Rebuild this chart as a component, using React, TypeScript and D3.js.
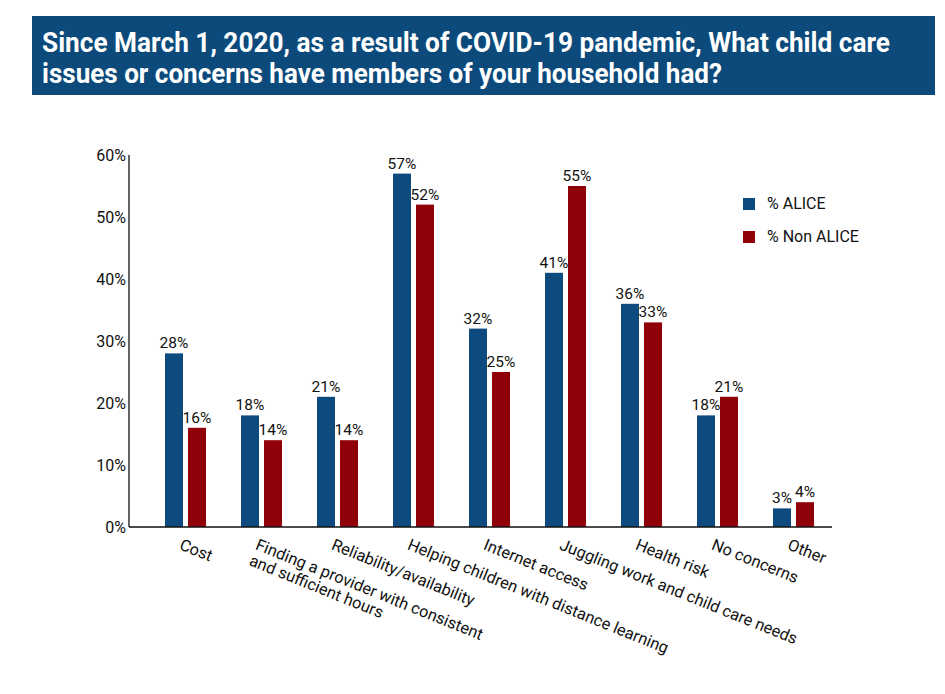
import React from "react";
import * as d3 from "d3";

const categories: string[][] = [
  ["Cost"],
  ["Finding a provider with consistent", "and sufficient hours"],
  ["Reliability/availability"],
  ["Helping children with distance learning"],
  ["Internet access"],
  ["Juggling work and child care needs"],
  ["Health risk"],
  ["No concerns"],
  ["Other"],
];
const alice = [28, 18, 21, 57, 32, 41, 36, 18, 3];
const nonAlice = [16, 14, 14, 52, 25, 55, 33, 21, 4];
const yTicks = [0, 10, 20, 30, 40, 50, 60];
const seriesNames = ["% ALICE", "% Non ALICE"];
const colors = ["#0d4a7d", "#8f0008"];
const titleLines = [
  "Since March 1, 2020, as a result of COVID-19 pandemic, What child care",
  "issues or concerns have members of your household had?",
];

export default function App() {
  const W = 945, H = 694;
  const x0 = 129, x1 = 832, yTop = 155, yBot = 527;
  const x = d3.scaleBand<number>().domain(d3.range(categories.length)).range([147.5, 831.5]);
  const y = d3.scaleLinear().domain([0, 60]).range([yBot, yTop]);
  const bw = 18, gap = 5;
  const font = "Roboto, 'Noto Sans', sans-serif";
  const series = [alice, nonAlice];
  return (
    <svg width={W} height={H} style={{ display: "block", position: "absolute", left: 0, top: 0 }}>
      <rect x={0} y={0} width={W} height={H} fill="#fff" />
      <rect x={32} y={16} width={903} height={79} fill="#0b4a7b" />
      {titleLines.map((t, i) => (
        <text key={i} x={42} y={52 + i * 31} fill="#fff" fontFamily={font} fontWeight={700} fontSize={27.5}
          textLength={i === 0 ? 848 : 680} lengthAdjust="spacingAndGlyphs">{t}</text>
      ))}
      {yTicks.map((t) => (
        <text key={t} x={126} y={y(t) + 6} textAnchor="end" fontFamily={font} fontSize={16} fill="#111">{t}%</text>
      ))}
      {series.map((vals, s) =>
        vals.map((v, i) => {
          const c = x(i)! + x.bandwidth() / 2;
          const bx = s === 0 ? c - gap / 2 - bw : c + gap / 2;
          return (
            <g key={`${s}-${i}`}>
              <rect x={bx} y={y(v)} width={bw} height={yBot - y(v)} fill={colors[s]} />
              <text x={bx + bw / 2} y={y(v) - 5} textAnchor="middle" fontFamily={font} fontSize={15.5} fill="#111">{v}%</text>
            </g>
          );
        })
      )}
      <line x1={x0} x2={x0} y1={yTop} y2={yBot} stroke="#111" strokeWidth={1.3} />
      <line x1={x0} x2={x1} y1={yBot} y2={yBot} stroke="#111" strokeWidth={1.3} />
      {categories.map((lines, i) => {
        const c = x(i)! + x.bandwidth() / 2;
        return (
          <text key={i} transform={`translate(${c - 7},${yBot + 22}) rotate(22)`} fontFamily={font} fontSize={16.3} fill="#111">
            {lines.map((l, j) => (
              <tspan key={j} x={0} dy={j === 0 ? 0 : 17}>{l}</tspan>
            ))}
          </text>
        );
      })}
      {seriesNames.map((n, i) => (
        <g key={n}>
          <rect x={743} y={198 + i * 33} width={12} height={12} fill={colors[i]} />
          <text x={767} y={209 + i * 33} fontFamily={font} fontSize={16} fill="#111">{n}</text>
        </g>
      ))}
    </svg>
  );
}
